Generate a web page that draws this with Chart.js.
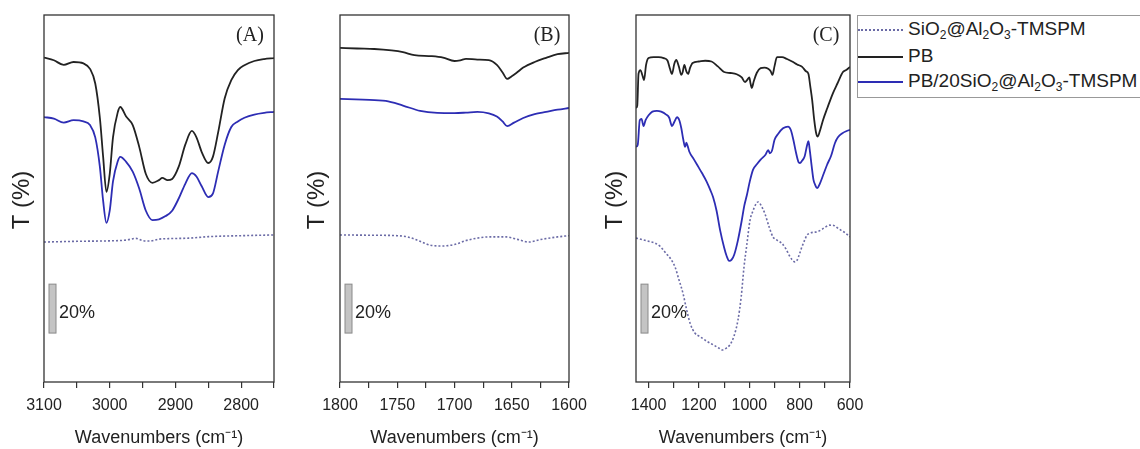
<!DOCTYPE html>
<html>
<head>
<meta charset="utf-8">
<script src="https://cdn.jsdelivr.net/npm/chart.js@4.4.0/dist/chart.umd.min.js"></script>
<style>
  body { margin: 0; background: #fff; width: 1140px; height: 449px; overflow: hidden; position: relative; font-family: "Liberation Sans", Arial, sans-serif; }
  canvas { position: absolute; top: 0; }
  #legend { position: absolute; left: 857px; top: 15px; width: 300px; height: 81px; border: 1px solid #999; background: #fff; z-index: 5; }
  .row { position: absolute; left: 0; height: 24px; line-height: 24px; font-size: 19px; color: #222; white-space: nowrap; }
  .row span.s { display: inline-block; width: 45px; margin-right: 5px; vertical-align: middle; }
  .row sub { font-size: 12px; vertical-align: -4px; line-height: 0; }
</style>
</head>
<body>
<canvas id="cA" width="300" height="449" style="left:0px"></canvas>
<canvas id="cB" width="300" height="449" style="left:295px"></canvas>
<canvas id="cC" width="290" height="449" style="left:590px"></canvas>
<div id="legend">
  <div class="row" style="top:1px"><span class="s" style="border-top:2px dotted #6b6ba6"></span>SiO<sub>2</sub>@Al<sub>2</sub>O<sub>3</sub>-TMSPM</div>
  <div class="row" style="top:28px"><span class="s" style="border-top:2px solid #222"></span>PB</div>
  <div class="row" style="top:53px"><span class="s" style="border-top:2px solid #2d2db4"></span>PB/20SiO<sub>2</sub>@Al<sub>2</sub>O<sub>3</sub>-TMSPM</div>
</div>
<script>
// panel A: 3100-2750
var aPbX = [3100, 3085, 3070, 3055, 3040, 3030, 3022, 3015, 3010, 3005, 3000, 2995, 2988, 2984, 2975, 2965, 2955, 2945, 2935, 2925, 2920, 2912, 2905, 2895, 2885, 2875, 2868, 2860, 2850, 2843, 2835, 2825, 2815, 2805, 2795, 2780, 2765, 2750]
var aPbY = [132.6, 131.5, 129.6, 130.8, 130.2, 128.0, 122, 108, 92, 77.7, 85, 100, 110, 112.4, 108.5, 105, 96, 85, 81.4, 82.5, 83.4, 82.5, 83.0, 88, 97, 102.6, 100, 94, 89.5, 92, 102, 116, 123.4, 127.5, 129.5, 131.2, 132.0, 132.4]
var aMixX = [3100, 3085, 3070, 3055, 3040, 3030, 3022, 3015, 3010, 3005, 3000, 2995, 2988, 2984, 2975, 2965, 2955, 2945, 2935, 2925, 2915, 2905, 2895, 2885, 2875, 2868, 2860, 2850, 2843, 2835, 2825, 2815, 2805, 2795, 2780, 2765, 2750]
var aMixY = [108.3, 107.6, 106, 107, 106.5, 105, 100, 88, 74, 65, 70, 82, 90, 92, 90, 86, 79, 70, 66.2, 66.5, 67.8, 70, 75, 81, 85.4, 84, 80, 75.6, 77, 86, 97, 104.2, 106.5, 108, 109.3, 110, 110.4]
var aSioX = [3100, 3050, 3000, 2975, 2960, 2950, 2940, 2925, 2910, 2880, 2850, 2800, 2750]
var aSioY = [57.2, 57.5, 57.7, 58.0, 58.7, 57.8, 57.6, 58.4, 58.6, 58.8, 59.4, 59.8, 60.1]

// panel B: 1800-1600
var bPbX = [1800, 1785, 1770, 1755, 1745, 1735, 1720, 1710, 1700, 1695, 1690, 1680, 1670, 1663, 1658, 1654, 1650, 1646, 1640, 1630, 1620, 1610, 1600]
var bPbY = [136.6, 136.3, 136.1, 135.5, 134.8, 133.6, 133.2, 132.6, 131.2, 131.5, 132.1, 131.8, 131.6, 129.6, 126.5, 123.9, 125, 126.3, 128.5, 130.8, 132.5, 134, 134.5]
var bMixX = [1800, 1780, 1760, 1745, 1730, 1715, 1700, 1690, 1680, 1670, 1663, 1658, 1654, 1648, 1640, 1630, 1620, 1610, 1600]
var bMixY = [115.7, 115.4, 114.9, 113, 110.8, 110, 109.9, 110.1, 110.4, 109.8, 108.5, 106.5, 104.6, 106, 107.9, 109.5, 110.4, 111.3, 112]
var bSioX = [1800, 1775, 1750, 1740, 1730, 1720, 1710, 1700, 1690, 1680, 1670, 1655, 1645, 1635, 1625, 1610, 1600]
var bSioY = [60.1, 60, 59.8, 59.2, 57.5, 55.8, 55.6, 56.2, 57.8, 58.8, 59.3, 59.3, 58.3, 57.2, 58.2, 59.3, 59.8]

// panel C: 1450-600
var cPbX = [1450, 1445, 1440, 1432, 1425, 1418, 1410, 1400, 1380, 1360, 1340, 1325, 1315, 1307, 1298, 1290, 1280, 1270, 1265, 1258, 1250, 1243, 1235, 1225, 1200, 1175, 1150, 1125, 1100, 1075, 1050, 1030, 1017, 1008, 1000, 995, 990, 982, 970, 955, 940, 925, 915, 908, 900, 890, 870, 850, 830, 810, 790, 775, 765, 758, 750, 742, 735, 728, 720, 707, 690, 668, 650, 628, 615, 600]
var cPbY = [112, 113, 126, 127.5, 125.5, 123.4, 129.6, 132.4, 132.8, 132.8, 132.4, 131.4, 128, 125.9, 130, 131.6, 129, 125.5, 126.5, 129.6, 127, 125.9, 128.5, 130.4, 131, 131.3, 131, 129, 126.7, 126.3, 125.8, 124.5, 122.6, 123.5, 124.5, 122, 120.2, 123, 126.4, 128.3, 128.5, 128, 127, 125.5, 129, 132.8, 132.8, 132, 131, 129.8, 128.8, 127, 125.9, 121, 115, 107, 102, 100.3, 102.5, 107.1, 112, 118, 122, 126.7, 127.5, 128.8]
var cMixX = [1450, 1443, 1435, 1428, 1420, 1412, 1400, 1385, 1367, 1350, 1330, 1318, 1307, 1297, 1287, 1278, 1270, 1262, 1255, 1250, 1245, 1238, 1220, 1200, 1188, 1170, 1155, 1144, 1130, 1116, 1100, 1090, 1080, 1070, 1060, 1045, 1030, 1020, 1010, 998, 985, 970, 955, 935, 925, 918, 910, 900, 885, 866, 846, 835, 825, 815, 805, 799, 790, 780, 770, 765, 760, 752, 745, 738, 731, 720, 705, 691, 675, 660, 648, 630, 615, 600]
var cMixY = [96.1, 97, 107, 107.5, 104.6, 107, 109, 110.5, 110.8, 110.5, 109.3, 108, 104.6, 106.5, 108.2, 107, 103.7, 99, 96.1, 97.8, 96.5, 94.1, 91, 87.5, 85.4, 82, 78.5, 75.6, 70, 62.1, 55, 51.5, 49.5, 50, 52, 58, 66, 72, 76.2, 82, 86.8, 89, 90.9, 93, 94.8, 93.5, 94.5, 98.9, 101.5, 103.7, 104.4, 103, 99, 94, 90, 89.5, 90.5, 92.3, 97, 98.4, 95, 88, 82.6, 80.5, 79.2, 81, 85, 88.8, 92.5, 97.6, 100, 101.7, 102.5, 103.1]
var cSioX = [1450, 1425, 1400, 1375, 1355, 1330, 1310, 1295, 1280, 1263, 1250, 1235, 1216, 1195, 1168, 1140, 1120, 1108, 1095, 1077, 1060, 1045, 1032, 1021, 1010, 997, 985, 975, 965, 955, 938, 920, 906, 890, 870, 855, 840, 830, 819, 810, 800, 791, 780, 771, 760, 745, 730, 710, 695, 680, 665, 650, 635, 620, 600]
var cSioY = [58.8, 58.2, 57.5, 56.8, 55.5, 52.5, 50, 47, 42, 36.1, 30, 24, 20, 18.5, 16.6, 15, 13.8, 13.1, 13.6, 15.2, 19, 25.3, 35, 47, 56, 66.2, 70, 72.5, 73.6, 72.5, 68.8, 63, 59.3, 58, 56.6, 54.5, 51.5, 50, 49.1, 49.8, 52.5, 55.2, 58, 60, 60.8, 61.2, 61.4, 62.5, 63.5, 64.1, 64, 63, 62, 61, 59.3]

// scale bar (20 % of T)
var barFrom = 20
var barTo = 40

function pts(xs, ys) {
  return xs.map((x, i) => ({x: x, y: ys[i]}))
}

// frame, panel letter, T (%) and the 20% bar
var extras = {
  id: 'extras',
  afterDraw(chart) {
    var c = chart.ctx, a = chart.chartArea, o = chart.options.plugins.extras
    var y = chart.scales.y
    c.save()
    c.strokeStyle = '#333'
    c.lineWidth = 1.3
    c.strokeRect(a.left, a.top, a.right - a.left, a.bottom - a.top)
    // scale bar
    var y1 = y.getPixelForValue(barTo), y2 = y.getPixelForValue(barFrom)
    c.fillStyle = '#c4c4c4'
    c.strokeStyle = '#8a8a8a'
    c.lineWidth = 1
    c.fillRect(a.left + 5, y1, 7, y2 - y1)
    c.strokeRect(a.left + 5, y1, 7, y2 - y1)
    c.fillStyle = '#222'
    c.font = '18px "Liberation Sans", Arial, sans-serif'
    c.textBaseline = 'middle'
    c.textAlign = 'left'
    c.fillText('20%', a.left + 15, (y1 + y2) / 2 + 4)
    // letter
    c.font = '20px "Liberation Serif", "Times New Roman", serif'
    c.textAlign = 'center'
    c.fillText(o.letter, o.letterX, 36)
    // y title
    c.translate(o.titleX, 200)
    c.rotate(-Math.PI / 2)
    c.font = '24px "Liberation Sans", Arial, sans-serif'
    c.fillText('T (%)', 0, 0)
    c.restore()
  }
}

function makePanel(id, min, max, step, labelStep, pad, letter, letterX, titleX, sets) {
  return new Chart(document.getElementById(id), {
    type: 'line',
    data: {
      datasets: [
        {data: sets[2], borderColor: '#6b6ba6', borderWidth: 1.6, borderDash: [2, 2], pointRadius: 0, cubicInterpolationMode: 'monotone'},
        {data: sets[0], borderColor: '#222222', borderWidth: 1.8, pointRadius: 0, cubicInterpolationMode: 'monotone'},
        {data: sets[1], borderColor: '#2d2db4', borderWidth: 1.8, pointRadius: 0, cubicInterpolationMode: 'monotone'}
      ]
    },
    options: {
      responsive: false,
      animation: false,
      events: [],
      layout: {padding: {left: pad[0], right: pad[1], top: 15, bottom: 0}},
      plugins: {
        legend: {display: false},
        tooltip: {enabled: false},
        extras: {letter: letter, letterX: letterX, titleX: titleX}
      },
      scales: {
        x: {
          type: 'linear',
          reverse: true,
          min: min,
          max: max,
          afterFit(s) { s.height = 67 },
          border: {display: false},
          grid: {drawOnChartArea: false, drawTicks: true, tickLength: 6, color: '#333', lineWidth: 1.2},
          ticks: {
            stepSize: step,
            includeBounds: false,
            autoSkip: false,
            maxRotation: 0,
            padding: 8,
            color: '#222',
            font: {family: '"Liberation Sans", Arial, sans-serif', size: 16},
            callback: v => (v % labelStep === 0 ? String(v) : '')
          },
          title: {
            display: true,
            text: 'Wavenumbers (cm⁻¹)',
            color: '#222',
            font: {family: '"Liberation Sans", Arial, sans-serif', size: 18},
            padding: {top: 0, bottom: 0}
          }
        },
        y: {display: false, min: 0, max: 150}
      }
    },
    plugins: [extras]
  })
}

makePanel('cA', 2750, 3100, 50, 100, [44, 26], '(A)', 250, 22,
  [pts(aPbX, aPbY), pts(aMixX, aMixY), pts(aSioX, aSioY)])
makePanel('cB', 1600, 1800, 25, 50, [45, 26], '(B)', 252, 22,
  [pts(bPbX, bPbY), pts(bMixX, bMixY), pts(bSioX, bSioY)])
makePanel('cC', 600, 1450, 100, 200, [46, 30], '(C)', 236, 25,
  [pts(cPbX, cPbY), pts(cMixX, cMixY), pts(cSioX, cSioY)])
</script>
</body>
</html>
